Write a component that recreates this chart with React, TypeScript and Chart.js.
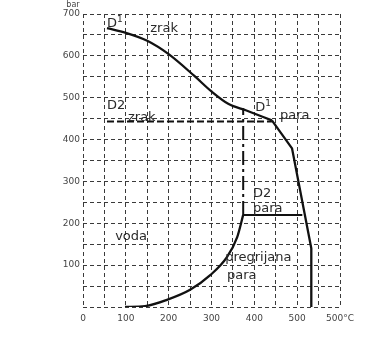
import React, { useEffect, useRef } from "react";
import { Chart, registerables } from "chart.js";

Chart.register(...registerables);

// Temperature (°C) / pressure (bar) data
const d1AirTemp = [56, 100, 150, 200, 260, 300, 340, 380, 441];
const d1AirPress = [666, 655, 636, 604, 552, 515, 485, 470, 446];
const d1SteamTemp = [441, 488, 533, 533];
const d1SteamPress = [446, 379, 140, 0];
const satTemp = [98, 145, 196, 250, 297, 336, 360, 374];
const satPress = [0, 2, 17, 41, 76, 119, 167, 220];
const d2AirTemp = [56, 441];
const d2AirPress = [443, 443];
const d2SteamTemp = [374, 512];
const d2SteamPress = [220, 220];
const splitTemp = [374, 374];
const splitPress = [220, 475];

const xLabels: Record<number, string> = { 0: "0", 100: "100", 200: "200", 300: "300", 400: "400", 500: "500", 600: "500°C" };
const yLabels: Record<number, string> = { 100: "100", 200: "200", 300: "300", 400: "400", 500: "500", 600: "600", 700: "700" };

// annotations
const labelTexts = ["D", "zrak", "D2", "zrak", "D", "para", "D2", "para", "voda", "pregrijana", "para"];
const labelSups = ["1", "", "", "", "1", "", "", "", "", "", ""];
const labelTemps = [56, 157, 56, 105, 402, 460, 397, 397, 75, 332, 336];
const labelPress = [678, 666, 482, 453, 477, 458, 272, 236, 167, 117, 76];

const pts = (xs: number[], ys: number[]) => xs.map((x, i) => ({ x, y: ys[i] }));

const annotPlugin = {
  id: "annot",
  afterDatasetsDraw(chart: any) {
    const { ctx, scales } = chart;
    ctx.save();
    ctx.fillStyle = "#2a2a2a";
    ctx.textBaseline = "middle";
    ctx.textAlign = "left";
    labelTexts.forEach((t, i) => {
      const px = scales.x.getPixelForValue(labelTemps[i]);
      const py = scales.y.getPixelForValue(labelPress[i]);
      ctx.font = "13px 'DejaVu Sans'";
      ctx.fillText(t, px, py);
      if (labelSups[i]) {
        const w = ctx.measureText(t).width;
        ctx.font = "9px 'DejaVu Sans'";
        ctx.fillText(labelSups[i], px + w, py - 4);
      }
    });
    ctx.font = "8px 'DejaVu Sans'";
    ctx.fillStyle = "#444";
    ctx.textAlign = "center";
    ctx.fillText("bar", 73, 5);
    ctx.restore();
  },
};

export default function App() {
  const ref = useRef<HTMLCanvasElement>(null);
  useEffect(() => {
    if (!ref.current) return;
    const line = (data: any, extra: any = {}) => ({
      data,
      showLine: true,
      pointRadius: 0,
      borderColor: "#111",
      borderWidth: 2.3,
      fill: false,
      ...extra,
    });
    const grid = {
      color: "#3a3a3a",
      lineWidth: 1,
      drawTicks: false,
    };
    const chart = new Chart(ref.current, {
      type: "scatter",
      data: {
        datasets: [
          line(pts(d1AirTemp, d1AirPress), { cubicInterpolationMode: "monotone" }),
          line(pts(d1SteamTemp, d1SteamPress)),
          line(pts(satTemp, satPress), { cubicInterpolationMode: "monotone" }),
          line(pts(d2AirTemp, d2AirPress), { borderDash: [7, 3], borderWidth: 2 }),
          line(pts(d2SteamTemp, d2SteamPress), { borderWidth: 2 }),
          line(pts(splitTemp, splitPress), { borderDash: [14, 4, 3, 4], borderWidth: 2 }),
        ],
      },
      options: {
        animation: false,
        responsive: false,
        plugins: { legend: { display: false }, tooltip: { enabled: false } },
        layout: { padding: { top: 14, right: 32, left: 0, bottom: 0 } },
        scales: {
          x: {
            type: "linear",
            min: 0,
            max: 600,
            border: { display: false, dash: [4, 3] },
            grid: { ...grid },
            afterFit: (s: any) => { s.height = 31; },
            ticks: {
              stepSize: 50,
              autoSkip: false,
              maxRotation: 0,
              padding: 6,
              color: "#444",
              font: { family: "DejaVu Sans", size: 9 },
              callback: (v: any) => xLabels[v] ?? "",
            },
          },
          y: {
            type: "linear",
            min: 0,
            max: 700,
            border: { display: false, dash: [4, 3] },
            grid: { ...grid },
            afterFit: (s: any) => { s.width = 83; },
            ticks: {
              stepSize: 50,
              autoSkip: false,
              padding: 3,
              color: "#444",
              font: { family: "DejaVu Sans", size: 9 },
              callback: (v: any) => yLabels[v] ?? "",
            },
          },
        },
      },
      plugins: [annotPlugin],
    } as any);
    return () => chart.destroy();
  }, []);
  return (
    <div style={{ position: "fixed", left: 0, top: 0, width: 372, height: 338, background: "#fff" }}>
      <canvas ref={ref} width={372} height={338} />
    </div>
  );
}
